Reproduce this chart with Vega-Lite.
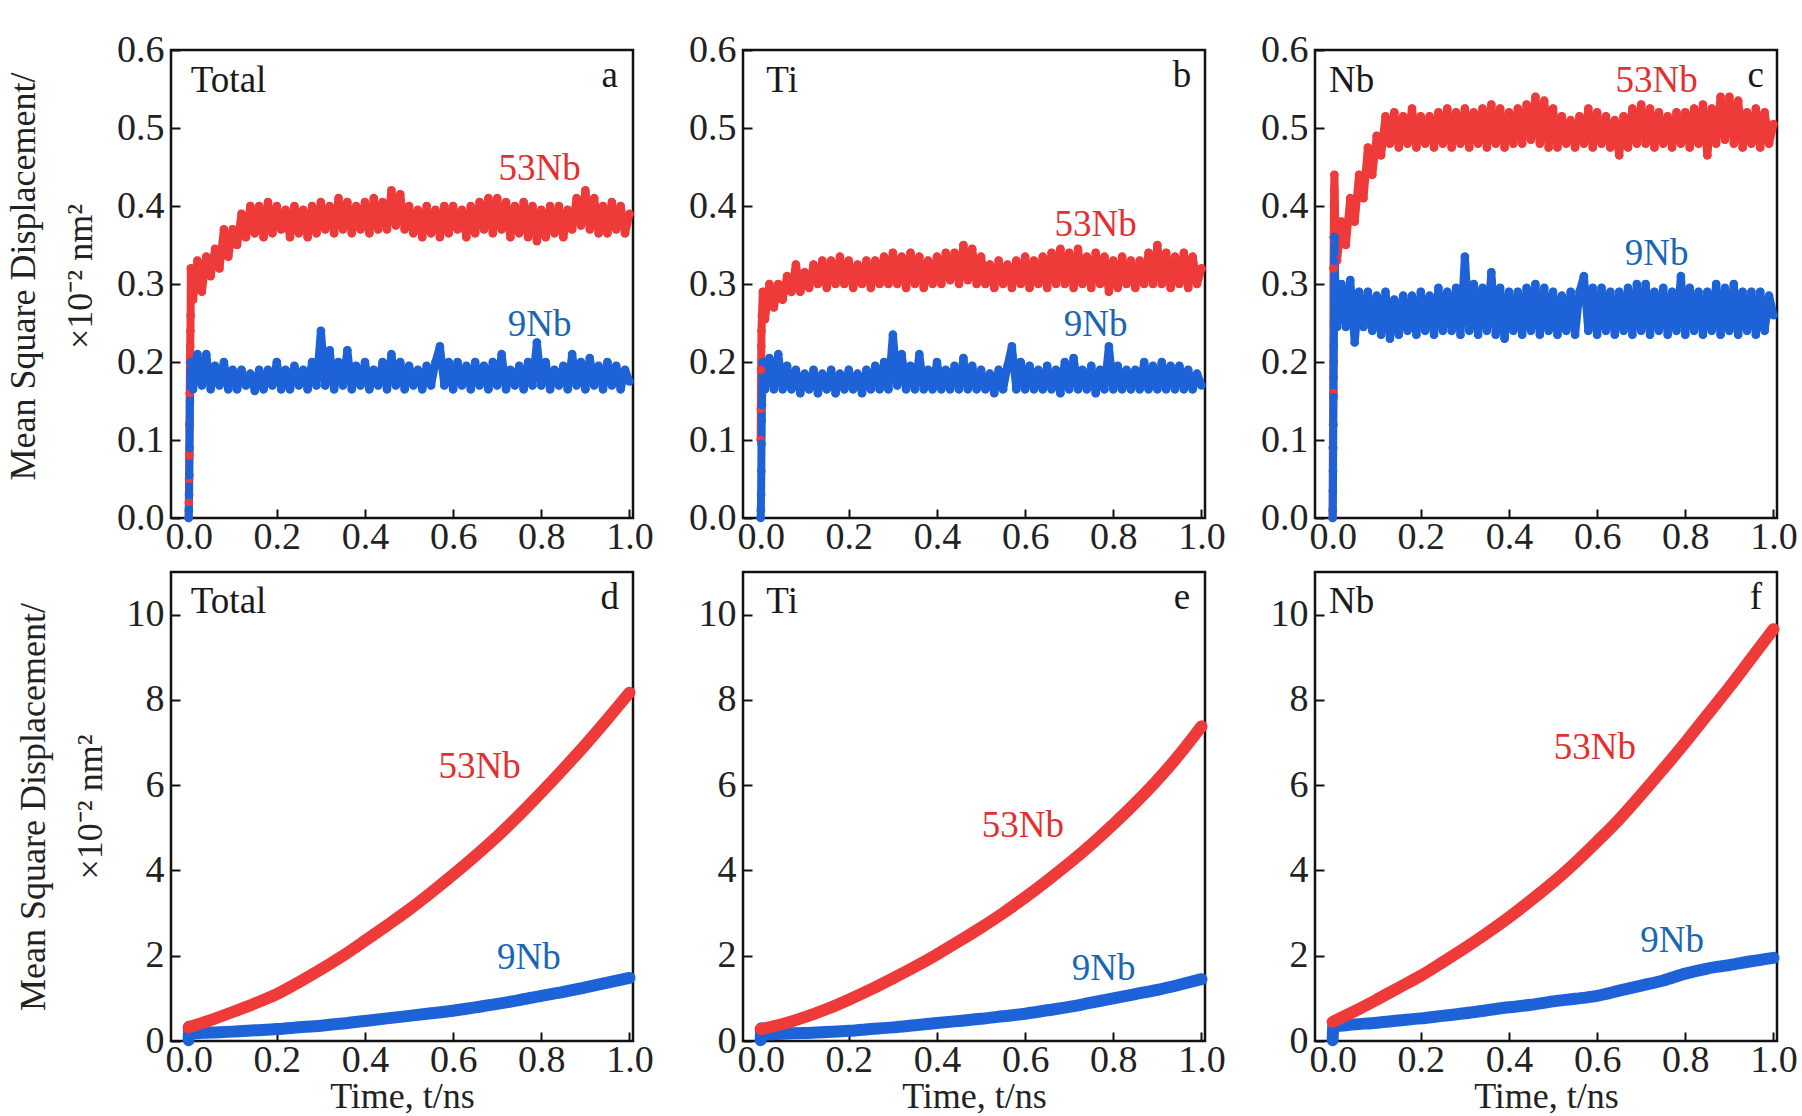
{
"$schema": "https://vega.github.io/schema/vega-lite/v6.json",
"background": "white",
"padding": {"left": 4, "top": 29, "right": 5, "bottom": 0},
"config": {
 "font": "Liberation Serif",
 "view": {"stroke": "#111", "strokeWidth": 2.5},
 "axis": {"domain": false, "grid": false, "ticks": true, "tickColor": "#111", "tickWidth": 2, "tickSize": -9, "labelFont": "Liberation Serif", "labelFontSize": 38, "labelColor": "#222", "labelFlush": false, "labelOverlap": false, "titleFont": "Liberation Serif", "titleFontSize": 36, "titleFontWeight": "normal", "titleColor": "#222"},
 "axisX": {"labelPadding": 9},
 "axisY": {"labelPadding": 16},
 "text": {"font": "Liberation Serif", "fontSize": 37}
},
"datasets": {
"msd": [
{"p":"a","s":"53Nb","t":0,"v":0},{"p":"a","s":"53Nb","t":0.0005,"v":0.02},{"p":"a","s":"53Nb","t":0.001,"v":0.05},{"p":"a","s":"53Nb","t":0.0015,"v":0.08},{"p":"a","s":"53Nb","t":0.002,"v":0.12},{"p":"a","s":"53Nb","t":0.0025,"v":0.16},{"p":"a","s":"53Nb","t":0.003,"v":0.2},{"p":"a","s":"53Nb","t":0.0035,"v":0.22},{"p":"a","s":"53Nb","t":0.004,"v":0.24},{"p":"a","s":"53Nb","t":0.0045,"v":0.26},{"p":"a","s":"53Nb","t":0.005,"v":0.32},
{"p":"a","s":"53Nb","t":0.01,"v":0.28},{"p":"a","s":"53Nb","t":0.02,"v":0.33},{"p":"a","s":"53Nb","t":0.03,"v":0.29},{"p":"a","s":"53Nb","t":0.04,"v":0.335},{"p":"a","s":"53Nb","t":0.05,"v":0.31},{"p":"a","s":"53Nb","t":0.06,"v":0.345},{"p":"a","s":"53Nb","t":0.07,"v":0.32},{"p":"a","s":"53Nb","t":0.08,"v":0.37},{"p":"a","s":"53Nb","t":0.09,"v":0.335},{"p":"a","s":"53Nb","t":0.1,"v":0.37},
{"p":"a","s":"53Nb","t":0.11,"v":0.35},{"p":"a","s":"53Nb","t":0.12,"v":0.39},{"p":"a","s":"53Nb","t":0.13,"v":0.36},{"p":"a","s":"53Nb","t":0.14,"v":0.4},{"p":"a","s":"53Nb","t":0.15,"v":0.365},{"p":"a","s":"53Nb","t":0.16,"v":0.4},{"p":"a","s":"53Nb","t":0.17,"v":0.36},{"p":"a","s":"53Nb","t":0.18,"v":0.405},{"p":"a","s":"53Nb","t":0.19,"v":0.365},{"p":"a","s":"53Nb","t":0.2,"v":0.4},
{"p":"a","s":"53Nb","t":0.21,"v":0.37},{"p":"a","s":"53Nb","t":0.22,"v":0.395},{"p":"a","s":"53Nb","t":0.23,"v":0.36},{"p":"a","s":"53Nb","t":0.24,"v":0.4},{"p":"a","s":"53Nb","t":0.25,"v":0.365},{"p":"a","s":"53Nb","t":0.26,"v":0.395},{"p":"a","s":"53Nb","t":0.27,"v":0.36},{"p":"a","s":"53Nb","t":0.28,"v":0.4},{"p":"a","s":"53Nb","t":0.29,"v":0.365},{"p":"a","s":"53Nb","t":0.3,"v":0.405},
{"p":"a","s":"53Nb","t":0.31,"v":0.37},{"p":"a","s":"53Nb","t":0.32,"v":0.4},{"p":"a","s":"53Nb","t":0.33,"v":0.365},{"p":"a","s":"53Nb","t":0.34,"v":0.41},{"p":"a","s":"53Nb","t":0.35,"v":0.37},{"p":"a","s":"53Nb","t":0.36,"v":0.405},{"p":"a","s":"53Nb","t":0.37,"v":0.365},{"p":"a","s":"53Nb","t":0.38,"v":0.4},{"p":"a","s":"53Nb","t":0.39,"v":0.37},{"p":"a","s":"53Nb","t":0.4,"v":0.405},
{"p":"a","s":"53Nb","t":0.41,"v":0.365},{"p":"a","s":"53Nb","t":0.42,"v":0.41},{"p":"a","s":"53Nb","t":0.43,"v":0.37},{"p":"a","s":"53Nb","t":0.44,"v":0.405},{"p":"a","s":"53Nb","t":0.45,"v":0.37},{"p":"a","s":"53Nb","t":0.46,"v":0.42},{"p":"a","s":"53Nb","t":0.47,"v":0.375},{"p":"a","s":"53Nb","t":0.48,"v":0.415},{"p":"a","s":"53Nb","t":0.49,"v":0.37},{"p":"a","s":"53Nb","t":0.5,"v":0.4},
{"p":"a","s":"53Nb","t":0.51,"v":0.365},{"p":"a","s":"53Nb","t":0.52,"v":0.395},{"p":"a","s":"53Nb","t":0.53,"v":0.36},{"p":"a","s":"53Nb","t":0.54,"v":0.4},{"p":"a","s":"53Nb","t":0.55,"v":0.365},{"p":"a","s":"53Nb","t":0.56,"v":0.395},{"p":"a","s":"53Nb","t":0.57,"v":0.36},{"p":"a","s":"53Nb","t":0.58,"v":0.4},{"p":"a","s":"53Nb","t":0.59,"v":0.365},{"p":"a","s":"53Nb","t":0.6,"v":0.4},
{"p":"a","s":"53Nb","t":0.61,"v":0.37},{"p":"a","s":"53Nb","t":0.62,"v":0.395},{"p":"a","s":"53Nb","t":0.63,"v":0.36},{"p":"a","s":"53Nb","t":0.64,"v":0.4},{"p":"a","s":"53Nb","t":0.65,"v":0.365},{"p":"a","s":"53Nb","t":0.66,"v":0.405},{"p":"a","s":"53Nb","t":0.67,"v":0.37},{"p":"a","s":"53Nb","t":0.68,"v":0.41},{"p":"a","s":"53Nb","t":0.69,"v":0.365},{"p":"a","s":"53Nb","t":0.7,"v":0.41},
{"p":"a","s":"53Nb","t":0.71,"v":0.37},{"p":"a","s":"53Nb","t":0.72,"v":0.405},{"p":"a","s":"53Nb","t":0.73,"v":0.36},{"p":"a","s":"53Nb","t":0.74,"v":0.4},{"p":"a","s":"53Nb","t":0.75,"v":0.365},{"p":"a","s":"53Nb","t":0.76,"v":0.405},{"p":"a","s":"53Nb","t":0.77,"v":0.36},{"p":"a","s":"53Nb","t":0.78,"v":0.4},{"p":"a","s":"53Nb","t":0.79,"v":0.355},{"p":"a","s":"53Nb","t":0.8,"v":0.395},
{"p":"a","s":"53Nb","t":0.81,"v":0.36},{"p":"a","s":"53Nb","t":0.82,"v":0.4},{"p":"a","s":"53Nb","t":0.83,"v":0.365},{"p":"a","s":"53Nb","t":0.84,"v":0.4},{"p":"a","s":"53Nb","t":0.85,"v":0.36},{"p":"a","s":"53Nb","t":0.86,"v":0.395},{"p":"a","s":"53Nb","t":0.87,"v":0.37},{"p":"a","s":"53Nb","t":0.88,"v":0.41},{"p":"a","s":"53Nb","t":0.89,"v":0.375},{"p":"a","s":"53Nb","t":0.9,"v":0.42},
{"p":"a","s":"53Nb","t":0.91,"v":0.37},{"p":"a","s":"53Nb","t":0.92,"v":0.41},{"p":"a","s":"53Nb","t":0.93,"v":0.365},{"p":"a","s":"53Nb","t":0.94,"v":0.4},{"p":"a","s":"53Nb","t":0.95,"v":0.365},{"p":"a","s":"53Nb","t":0.96,"v":0.405},{"p":"a","s":"53Nb","t":0.97,"v":0.37},{"p":"a","s":"53Nb","t":0.98,"v":0.4},{"p":"a","s":"53Nb","t":0.99,"v":0.365},{"p":"a","s":"53Nb","t":1.0,"v":0.39},

{"p":"a","s":"9Nb","t":0,"v":0},{"p":"a","s":"9Nb","t":0.0005,"v":0.01},{"p":"a","s":"9Nb","t":0.001,"v":0.03},{"p":"a","s":"9Nb","t":0.0015,"v":0.055},{"p":"a","s":"9Nb","t":0.002,"v":0.09},{"p":"a","s":"9Nb","t":0.0025,"v":0.12},{"p":"a","s":"9Nb","t":0.003,"v":0.15},{"p":"a","s":"9Nb","t":0.004,"v":0.18},{"p":"a","s":"9Nb","t":0.005,"v":0.2},
{"p":"a","s":"9Nb","t":0.01,"v":0.165},{"p":"a","s":"9Nb","t":0.02,"v":0.21},{"p":"a","s":"9Nb","t":0.03,"v":0.17},{"p":"a","s":"9Nb","t":0.04,"v":0.21},{"p":"a","s":"9Nb","t":0.05,"v":0.165},{"p":"a","s":"9Nb","t":0.06,"v":0.195},{"p":"a","s":"9Nb","t":0.07,"v":0.17},{"p":"a","s":"9Nb","t":0.08,"v":0.2},{"p":"a","s":"9Nb","t":0.09,"v":0.165},{"p":"a","s":"9Nb","t":0.1,"v":0.19},
{"p":"a","s":"9Nb","t":0.11,"v":0.165},{"p":"a","s":"9Nb","t":0.12,"v":0.19},{"p":"a","s":"9Nb","t":0.13,"v":0.17},{"p":"a","s":"9Nb","t":0.14,"v":0.185},{"p":"a","s":"9Nb","t":0.15,"v":0.163},{"p":"a","s":"9Nb","t":0.16,"v":0.19},{"p":"a","s":"9Nb","t":0.17,"v":0.165},{"p":"a","s":"9Nb","t":0.18,"v":0.19},{"p":"a","s":"9Nb","t":0.19,"v":0.17},{"p":"a","s":"9Nb","t":0.2,"v":0.2},
{"p":"a","s":"9Nb","t":0.21,"v":0.165},{"p":"a","s":"9Nb","t":0.22,"v":0.19},{"p":"a","s":"9Nb","t":0.23,"v":0.165},{"p":"a","s":"9Nb","t":0.24,"v":0.195},{"p":"a","s":"9Nb","t":0.25,"v":0.17},{"p":"a","s":"9Nb","t":0.26,"v":0.19},{"p":"a","s":"9Nb","t":0.27,"v":0.165},{"p":"a","s":"9Nb","t":0.28,"v":0.2},{"p":"a","s":"9Nb","t":0.29,"v":0.17},{"p":"a","s":"9Nb","t":0.3,"v":0.24},
{"p":"a","s":"9Nb","t":0.31,"v":0.17},{"p":"a","s":"9Nb","t":0.32,"v":0.215},{"p":"a","s":"9Nb","t":0.33,"v":0.165},{"p":"a","s":"9Nb","t":0.34,"v":0.2},{"p":"a","s":"9Nb","t":0.35,"v":0.17},{"p":"a","s":"9Nb","t":0.36,"v":0.215},{"p":"a","s":"9Nb","t":0.37,"v":0.165},{"p":"a","s":"9Nb","t":0.38,"v":0.195},{"p":"a","s":"9Nb","t":0.39,"v":0.17},{"p":"a","s":"9Nb","t":0.4,"v":0.2},
{"p":"a","s":"9Nb","t":0.41,"v":0.165},{"p":"a","s":"9Nb","t":0.42,"v":0.19},{"p":"a","s":"9Nb","t":0.43,"v":0.17},{"p":"a","s":"9Nb","t":0.44,"v":0.2},{"p":"a","s":"9Nb","t":0.45,"v":0.165},{"p":"a","s":"9Nb","t":0.46,"v":0.21},{"p":"a","s":"9Nb","t":0.47,"v":0.17},{"p":"a","s":"9Nb","t":0.48,"v":0.2},{"p":"a","s":"9Nb","t":0.49,"v":0.165},{"p":"a","s":"9Nb","t":0.5,"v":0.195},
{"p":"a","s":"9Nb","t":0.51,"v":0.17},{"p":"a","s":"9Nb","t":0.52,"v":0.19},{"p":"a","s":"9Nb","t":0.53,"v":0.165},{"p":"a","s":"9Nb","t":0.54,"v":0.195},{"p":"a","s":"9Nb","t":0.55,"v":0.17},{"p":"a","s":"9Nb","t":0.56,"v":0.2},{"p":"a","s":"9Nb","t":0.57,"v":0.22},{"p":"a","s":"9Nb","t":0.58,"v":0.17},{"p":"a","s":"9Nb","t":0.59,"v":0.2},{"p":"a","s":"9Nb","t":0.6,"v":0.165},
{"p":"a","s":"9Nb","t":0.61,"v":0.2},{"p":"a","s":"9Nb","t":0.62,"v":0.17},{"p":"a","s":"9Nb","t":0.63,"v":0.195},{"p":"a","s":"9Nb","t":0.64,"v":0.165},{"p":"a","s":"9Nb","t":0.65,"v":0.2},{"p":"a","s":"9Nb","t":0.66,"v":0.17},{"p":"a","s":"9Nb","t":0.67,"v":0.195},{"p":"a","s":"9Nb","t":0.68,"v":0.165},{"p":"a","s":"9Nb","t":0.69,"v":0.2},{"p":"a","s":"9Nb","t":0.7,"v":0.17},
{"p":"a","s":"9Nb","t":0.71,"v":0.21},{"p":"a","s":"9Nb","t":0.72,"v":0.165},{"p":"a","s":"9Nb","t":0.73,"v":0.19},{"p":"a","s":"9Nb","t":0.74,"v":0.17},{"p":"a","s":"9Nb","t":0.75,"v":0.195},{"p":"a","s":"9Nb","t":0.76,"v":0.165},{"p":"a","s":"9Nb","t":0.77,"v":0.2},{"p":"a","s":"9Nb","t":0.78,"v":0.17},{"p":"a","s":"9Nb","t":0.79,"v":0.225},{"p":"a","s":"9Nb","t":0.8,"v":0.17},
{"p":"a","s":"9Nb","t":0.81,"v":0.2},{"p":"a","s":"9Nb","t":0.82,"v":0.165},{"p":"a","s":"9Nb","t":0.83,"v":0.19},{"p":"a","s":"9Nb","t":0.84,"v":0.17},{"p":"a","s":"9Nb","t":0.85,"v":0.195},{"p":"a","s":"9Nb","t":0.86,"v":0.165},{"p":"a","s":"9Nb","t":0.87,"v":0.21},{"p":"a","s":"9Nb","t":0.88,"v":0.17},{"p":"a","s":"9Nb","t":0.89,"v":0.2},{"p":"a","s":"9Nb","t":0.9,"v":0.165},
{"p":"a","s":"9Nb","t":0.91,"v":0.205},{"p":"a","s":"9Nb","t":0.92,"v":0.17},{"p":"a","s":"9Nb","t":0.93,"v":0.195},{"p":"a","s":"9Nb","t":0.94,"v":0.165},{"p":"a","s":"9Nb","t":0.95,"v":0.2},{"p":"a","s":"9Nb","t":0.96,"v":0.17},{"p":"a","s":"9Nb","t":0.97,"v":0.195},{"p":"a","s":"9Nb","t":0.98,"v":0.165},{"p":"a","s":"9Nb","t":0.99,"v":0.19},{"p":"a","s":"9Nb","t":1.0,"v":0.175},

{"p":"b","s":"53Nb","t":0,"v":0.1},{"p":"b","s":"53Nb","t":0.0005,"v":0.14},{"p":"b","s":"53Nb","t":0.001,"v":0.19},{"p":"b","s":"53Nb","t":0.0015,"v":0.22},{"p":"b","s":"53Nb","t":0.002,"v":0.24},{"p":"b","s":"53Nb","t":0.003,"v":0.26},{"p":"b","s":"53Nb","t":0.005,"v":0.29},
{"p":"b","s":"53Nb","t":0.01,"v":0.255},{"p":"b","s":"53Nb","t":0.02,"v":0.3},{"p":"b","s":"53Nb","t":0.03,"v":0.27},{"p":"b","s":"53Nb","t":0.04,"v":0.3},{"p":"b","s":"53Nb","t":0.05,"v":0.28},{"p":"b","s":"53Nb","t":0.06,"v":0.31},{"p":"b","s":"53Nb","t":0.07,"v":0.29},{"p":"b","s":"53Nb","t":0.08,"v":0.325},{"p":"b","s":"53Nb","t":0.09,"v":0.29},{"p":"b","s":"53Nb","t":0.1,"v":0.315},
{"p":"b","s":"53Nb","t":0.11,"v":0.295},{"p":"b","s":"53Nb","t":0.12,"v":0.325},{"p":"b","s":"53Nb","t":0.13,"v":0.3},{"p":"b","s":"53Nb","t":0.14,"v":0.33},{"p":"b","s":"53Nb","t":0.15,"v":0.295},{"p":"b","s":"53Nb","t":0.16,"v":0.33},{"p":"b","s":"53Nb","t":0.17,"v":0.3},{"p":"b","s":"53Nb","t":0.18,"v":0.335},{"p":"b","s":"53Nb","t":0.19,"v":0.3},{"p":"b","s":"53Nb","t":0.2,"v":0.33},
{"p":"b","s":"53Nb","t":0.21,"v":0.295},{"p":"b","s":"53Nb","t":0.22,"v":0.325},{"p":"b","s":"53Nb","t":0.23,"v":0.3},{"p":"b","s":"53Nb","t":0.24,"v":0.33},{"p":"b","s":"53Nb","t":0.25,"v":0.295},{"p":"b","s":"53Nb","t":0.26,"v":0.33},{"p":"b","s":"53Nb","t":0.27,"v":0.3},{"p":"b","s":"53Nb","t":0.28,"v":0.335},{"p":"b","s":"53Nb","t":0.29,"v":0.3},{"p":"b","s":"53Nb","t":0.3,"v":0.34},
{"p":"b","s":"53Nb","t":0.31,"v":0.3},{"p":"b","s":"53Nb","t":0.32,"v":0.335},{"p":"b","s":"53Nb","t":0.33,"v":0.295},{"p":"b","s":"53Nb","t":0.34,"v":0.34},{"p":"b","s":"53Nb","t":0.35,"v":0.3},{"p":"b","s":"53Nb","t":0.36,"v":0.335},{"p":"b","s":"53Nb","t":0.37,"v":0.295},{"p":"b","s":"53Nb","t":0.38,"v":0.33},{"p":"b","s":"53Nb","t":0.39,"v":0.3},{"p":"b","s":"53Nb","t":0.4,"v":0.335},
{"p":"b","s":"53Nb","t":0.41,"v":0.3},{"p":"b","s":"53Nb","t":0.42,"v":0.34},{"p":"b","s":"53Nb","t":0.43,"v":0.305},{"p":"b","s":"53Nb","t":0.44,"v":0.34},{"p":"b","s":"53Nb","t":0.45,"v":0.3},{"p":"b","s":"53Nb","t":0.46,"v":0.35},{"p":"b","s":"53Nb","t":0.47,"v":0.305},{"p":"b","s":"53Nb","t":0.48,"v":0.345},{"p":"b","s":"53Nb","t":0.49,"v":0.3},{"p":"b","s":"53Nb","t":0.5,"v":0.335},
{"p":"b","s":"53Nb","t":0.51,"v":0.3},{"p":"b","s":"53Nb","t":0.52,"v":0.325},{"p":"b","s":"53Nb","t":0.53,"v":0.295},{"p":"b","s":"53Nb","t":0.54,"v":0.33},{"p":"b","s":"53Nb","t":0.55,"v":0.3},{"p":"b","s":"53Nb","t":0.56,"v":0.325},{"p":"b","s":"53Nb","t":0.57,"v":0.295},{"p":"b","s":"53Nb","t":0.58,"v":0.33},{"p":"b","s":"53Nb","t":0.59,"v":0.3},{"p":"b","s":"53Nb","t":0.6,"v":0.335},
{"p":"b","s":"53Nb","t":0.61,"v":0.295},{"p":"b","s":"53Nb","t":0.62,"v":0.33},{"p":"b","s":"53Nb","t":0.63,"v":0.3},{"p":"b","s":"53Nb","t":0.64,"v":0.335},{"p":"b","s":"53Nb","t":0.65,"v":0.295},{"p":"b","s":"53Nb","t":0.66,"v":0.34},{"p":"b","s":"53Nb","t":0.67,"v":0.3},{"p":"b","s":"53Nb","t":0.68,"v":0.345},{"p":"b","s":"53Nb","t":0.69,"v":0.3},{"p":"b","s":"53Nb","t":0.7,"v":0.34},
{"p":"b","s":"53Nb","t":0.71,"v":0.295},{"p":"b","s":"53Nb","t":0.72,"v":0.345},{"p":"b","s":"53Nb","t":0.73,"v":0.3},{"p":"b","s":"53Nb","t":0.74,"v":0.335},{"p":"b","s":"53Nb","t":0.75,"v":0.295},{"p":"b","s":"53Nb","t":0.76,"v":0.34},{"p":"b","s":"53Nb","t":0.77,"v":0.3},{"p":"b","s":"53Nb","t":0.78,"v":0.335},{"p":"b","s":"53Nb","t":0.79,"v":0.29},{"p":"b","s":"53Nb","t":0.8,"v":0.33},
{"p":"b","s":"53Nb","t":0.81,"v":0.295},{"p":"b","s":"53Nb","t":0.82,"v":0.335},{"p":"b","s":"53Nb","t":0.83,"v":0.3},{"p":"b","s":"53Nb","t":0.84,"v":0.33},{"p":"b","s":"53Nb","t":0.85,"v":0.295},{"p":"b","s":"53Nb","t":0.86,"v":0.33},{"p":"b","s":"53Nb","t":0.87,"v":0.3},{"p":"b","s":"53Nb","t":0.88,"v":0.34},{"p":"b","s":"53Nb","t":0.89,"v":0.3},{"p":"b","s":"53Nb","t":0.9,"v":0.35},
{"p":"b","s":"53Nb","t":0.91,"v":0.3},{"p":"b","s":"53Nb","t":0.92,"v":0.34},{"p":"b","s":"53Nb","t":0.93,"v":0.295},{"p":"b","s":"53Nb","t":0.94,"v":0.335},{"p":"b","s":"53Nb","t":0.95,"v":0.3},{"p":"b","s":"53Nb","t":0.96,"v":0.34},{"p":"b","s":"53Nb","t":0.97,"v":0.295},{"p":"b","s":"53Nb","t":0.98,"v":0.335},{"p":"b","s":"53Nb","t":0.99,"v":0.3},{"p":"b","s":"53Nb","t":1.0,"v":0.32},

{"p":"b","s":"9Nb","t":0,"v":0},{"p":"b","s":"9Nb","t":0.0005,"v":0.01},{"p":"b","s":"9Nb","t":0.001,"v":0.03},{"p":"b","s":"9Nb","t":0.0015,"v":0.06},{"p":"b","s":"9Nb","t":0.002,"v":0.095},{"p":"b","s":"9Nb","t":0.0025,"v":0.125},{"p":"b","s":"9Nb","t":0.003,"v":0.145},{"p":"b","s":"9Nb","t":0.004,"v":0.17},{"p":"b","s":"9Nb","t":0.005,"v":0.2},
{"p":"b","s":"9Nb","t":0.01,"v":0.165},{"p":"b","s":"9Nb","t":0.02,"v":0.205},{"p":"b","s":"9Nb","t":0.03,"v":0.165},{"p":"b","s":"9Nb","t":0.04,"v":0.21},{"p":"b","s":"9Nb","t":0.05,"v":0.165},{"p":"b","s":"9Nb","t":0.06,"v":0.195},{"p":"b","s":"9Nb","t":0.07,"v":0.165},{"p":"b","s":"9Nb","t":0.08,"v":0.19},{"p":"b","s":"9Nb","t":0.09,"v":0.16},{"p":"b","s":"9Nb","t":0.1,"v":0.185},
{"p":"b","s":"9Nb","t":0.11,"v":0.165},{"p":"b","s":"9Nb","t":0.12,"v":0.19},{"p":"b","s":"9Nb","t":0.13,"v":0.16},{"p":"b","s":"9Nb","t":0.14,"v":0.185},{"p":"b","s":"9Nb","t":0.15,"v":0.165},{"p":"b","s":"9Nb","t":0.16,"v":0.19},{"p":"b","s":"9Nb","t":0.17,"v":0.16},{"p":"b","s":"9Nb","t":0.18,"v":0.185},{"p":"b","s":"9Nb","t":0.19,"v":0.165},{"p":"b","s":"9Nb","t":0.2,"v":0.19},
{"p":"b","s":"9Nb","t":0.21,"v":0.165},{"p":"b","s":"9Nb","t":0.22,"v":0.185},{"p":"b","s":"9Nb","t":0.23,"v":0.16},{"p":"b","s":"9Nb","t":0.24,"v":0.19},{"p":"b","s":"9Nb","t":0.25,"v":0.165},{"p":"b","s":"9Nb","t":0.26,"v":0.195},{"p":"b","s":"9Nb","t":0.27,"v":0.165},{"p":"b","s":"9Nb","t":0.28,"v":0.2},{"p":"b","s":"9Nb","t":0.29,"v":0.165},{"p":"b","s":"9Nb","t":0.3,"v":0.235},
{"p":"b","s":"9Nb","t":0.31,"v":0.17},{"p":"b","s":"9Nb","t":0.32,"v":0.21},{"p":"b","s":"9Nb","t":0.33,"v":0.165},{"p":"b","s":"9Nb","t":0.34,"v":0.195},{"p":"b","s":"9Nb","t":0.35,"v":0.165},{"p":"b","s":"9Nb","t":0.36,"v":0.21},{"p":"b","s":"9Nb","t":0.37,"v":0.165},{"p":"b","s":"9Nb","t":0.38,"v":0.19},{"p":"b","s":"9Nb","t":0.39,"v":0.165},{"p":"b","s":"9Nb","t":0.4,"v":0.2},
{"p":"b","s":"9Nb","t":0.41,"v":0.165},{"p":"b","s":"9Nb","t":0.42,"v":0.19},{"p":"b","s":"9Nb","t":0.43,"v":0.165},{"p":"b","s":"9Nb","t":0.44,"v":0.195},{"p":"b","s":"9Nb","t":0.45,"v":0.165},{"p":"b","s":"9Nb","t":0.46,"v":0.205},{"p":"b","s":"9Nb","t":0.47,"v":0.165},{"p":"b","s":"9Nb","t":0.48,"v":0.195},{"p":"b","s":"9Nb","t":0.49,"v":0.165},{"p":"b","s":"9Nb","t":0.5,"v":0.19},
{"p":"b","s":"9Nb","t":0.51,"v":0.165},{"p":"b","s":"9Nb","t":0.52,"v":0.185},{"p":"b","s":"9Nb","t":0.53,"v":0.16},{"p":"b","s":"9Nb","t":0.54,"v":0.19},{"p":"b","s":"9Nb","t":0.55,"v":0.165},{"p":"b","s":"9Nb","t":0.56,"v":0.195},{"p":"b","s":"9Nb","t":0.57,"v":0.22},{"p":"b","s":"9Nb","t":0.58,"v":0.165},{"p":"b","s":"9Nb","t":0.59,"v":0.2},{"p":"b","s":"9Nb","t":0.6,"v":0.165},
{"p":"b","s":"9Nb","t":0.61,"v":0.195},{"p":"b","s":"9Nb","t":0.62,"v":0.165},{"p":"b","s":"9Nb","t":0.63,"v":0.19},{"p":"b","s":"9Nb","t":0.64,"v":0.165},{"p":"b","s":"9Nb","t":0.65,"v":0.195},{"p":"b","s":"9Nb","t":0.66,"v":0.165},{"p":"b","s":"9Nb","t":0.67,"v":0.19},{"p":"b","s":"9Nb","t":0.68,"v":0.16},{"p":"b","s":"9Nb","t":0.69,"v":0.2},{"p":"b","s":"9Nb","t":0.7,"v":0.165},
{"p":"b","s":"9Nb","t":0.71,"v":0.205},{"p":"b","s":"9Nb","t":0.72,"v":0.165},{"p":"b","s":"9Nb","t":0.73,"v":0.19},{"p":"b","s":"9Nb","t":0.74,"v":0.165},{"p":"b","s":"9Nb","t":0.75,"v":0.195},{"p":"b","s":"9Nb","t":0.76,"v":0.16},{"p":"b","s":"9Nb","t":0.77,"v":0.19},{"p":"b","s":"9Nb","t":0.78,"v":0.165},{"p":"b","s":"9Nb","t":0.79,"v":0.22},{"p":"b","s":"9Nb","t":0.8,"v":0.165},
{"p":"b","s":"9Nb","t":0.81,"v":0.195},{"p":"b","s":"9Nb","t":0.82,"v":0.165},{"p":"b","s":"9Nb","t":0.83,"v":0.19},{"p":"b","s":"9Nb","t":0.84,"v":0.165},{"p":"b","s":"9Nb","t":0.85,"v":0.19},{"p":"b","s":"9Nb","t":0.86,"v":0.165},{"p":"b","s":"9Nb","t":0.87,"v":0.2},{"p":"b","s":"9Nb","t":0.88,"v":0.165},{"p":"b","s":"9Nb","t":0.89,"v":0.195},{"p":"b","s":"9Nb","t":0.9,"v":0.165},
{"p":"b","s":"9Nb","t":0.91,"v":0.2},{"p":"b","s":"9Nb","t":0.92,"v":0.165},{"p":"b","s":"9Nb","t":0.93,"v":0.195},{"p":"b","s":"9Nb","t":0.94,"v":0.165},{"p":"b","s":"9Nb","t":0.95,"v":0.195},{"p":"b","s":"9Nb","t":0.96,"v":0.165},{"p":"b","s":"9Nb","t":0.97,"v":0.19},{"p":"b","s":"9Nb","t":0.98,"v":0.165},{"p":"b","s":"9Nb","t":0.99,"v":0.185},{"p":"b","s":"9Nb","t":1.0,"v":0.17},

{"p":"c","s":"53Nb","t":0,"v":0},{"p":"c","s":"53Nb","t":0.0005,"v":0.09},{"p":"c","s":"53Nb","t":0.001,"v":0.12},{"p":"c","s":"53Nb","t":0.0015,"v":0.16},{"p":"c","s":"53Nb","t":0.002,"v":0.32},{"p":"c","s":"53Nb","t":0.0025,"v":0.36},{"p":"c","s":"53Nb","t":0.003,"v":0.4},{"p":"c","s":"53Nb","t":0.0035,"v":0.42},{"p":"c","s":"53Nb","t":0.004,"v":0.44},{"p":"c","s":"53Nb","t":0.006,"v":0.38},
{"p":"c","s":"53Nb","t":0.01,"v":0.33},{"p":"c","s":"53Nb","t":0.02,"v":0.38},{"p":"c","s":"53Nb","t":0.03,"v":0.35},{"p":"c","s":"53Nb","t":0.04,"v":0.41},{"p":"c","s":"53Nb","t":0.05,"v":0.38},{"p":"c","s":"53Nb","t":0.06,"v":0.44},{"p":"c","s":"53Nb","t":0.07,"v":0.41},{"p":"c","s":"53Nb","t":0.08,"v":0.475},{"p":"c","s":"53Nb","t":0.09,"v":0.44},{"p":"c","s":"53Nb","t":0.1,"v":0.49},
{"p":"c","s":"53Nb","t":0.11,"v":0.465},{"p":"c","s":"53Nb","t":0.12,"v":0.515},{"p":"c","s":"53Nb","t":0.13,"v":0.48},{"p":"c","s":"53Nb","t":0.14,"v":0.52},{"p":"c","s":"53Nb","t":0.15,"v":0.475},{"p":"c","s":"53Nb","t":0.16,"v":0.515},{"p":"c","s":"53Nb","t":0.17,"v":0.48},{"p":"c","s":"53Nb","t":0.18,"v":0.525},{"p":"c","s":"53Nb","t":0.19,"v":0.475},{"p":"c","s":"53Nb","t":0.2,"v":0.515},
{"p":"c","s":"53Nb","t":0.21,"v":0.48},{"p":"c","s":"53Nb","t":0.22,"v":0.515},{"p":"c","s":"53Nb","t":0.23,"v":0.475},{"p":"c","s":"53Nb","t":0.24,"v":0.52},{"p":"c","s":"53Nb","t":0.25,"v":0.48},{"p":"c","s":"53Nb","t":0.26,"v":0.525},{"p":"c","s":"53Nb","t":0.27,"v":0.475},{"p":"c","s":"53Nb","t":0.28,"v":0.52},{"p":"c","s":"53Nb","t":0.29,"v":0.48},{"p":"c","s":"53Nb","t":0.3,"v":0.525},
{"p":"c","s":"53Nb","t":0.31,"v":0.475},{"p":"c","s":"53Nb","t":0.32,"v":0.52},{"p":"c","s":"53Nb","t":0.33,"v":0.48},{"p":"c","s":"53Nb","t":0.34,"v":0.525},{"p":"c","s":"53Nb","t":0.35,"v":0.475},{"p":"c","s":"53Nb","t":0.36,"v":0.53},{"p":"c","s":"53Nb","t":0.37,"v":0.48},{"p":"c","s":"53Nb","t":0.38,"v":0.525},{"p":"c","s":"53Nb","t":0.39,"v":0.475},{"p":"c","s":"53Nb","t":0.4,"v":0.52},
{"p":"c","s":"53Nb","t":0.41,"v":0.48},{"p":"c","s":"53Nb","t":0.42,"v":0.525},{"p":"c","s":"53Nb","t":0.43,"v":0.48},{"p":"c","s":"53Nb","t":0.44,"v":0.53},{"p":"c","s":"53Nb","t":0.45,"v":0.485},{"p":"c","s":"53Nb","t":0.46,"v":0.54},{"p":"c","s":"53Nb","t":0.47,"v":0.48},{"p":"c","s":"53Nb","t":0.48,"v":0.535},{"p":"c","s":"53Nb","t":0.49,"v":0.475},{"p":"c","s":"53Nb","t":0.5,"v":0.525},
{"p":"c","s":"53Nb","t":0.51,"v":0.475},{"p":"c","s":"53Nb","t":0.52,"v":0.515},{"p":"c","s":"53Nb","t":0.53,"v":0.48},{"p":"c","s":"53Nb","t":0.54,"v":0.51},{"p":"c","s":"53Nb","t":0.55,"v":0.475},{"p":"c","s":"53Nb","t":0.56,"v":0.515},{"p":"c","s":"53Nb","t":0.57,"v":0.48},{"p":"c","s":"53Nb","t":0.58,"v":0.525},{"p":"c","s":"53Nb","t":0.59,"v":0.475},{"p":"c","s":"53Nb","t":0.6,"v":0.52},
{"p":"c","s":"53Nb","t":0.61,"v":0.48},{"p":"c","s":"53Nb","t":0.62,"v":0.515},{"p":"c","s":"53Nb","t":0.63,"v":0.475},{"p":"c","s":"53Nb","t":0.64,"v":0.51},{"p":"c","s":"53Nb","t":0.65,"v":0.465},{"p":"c","s":"53Nb","t":0.66,"v":0.515},{"p":"c","s":"53Nb","t":0.67,"v":0.475},{"p":"c","s":"53Nb","t":0.68,"v":0.525},{"p":"c","s":"53Nb","t":0.69,"v":0.48},{"p":"c","s":"53Nb","t":0.7,"v":0.53},
{"p":"c","s":"53Nb","t":0.71,"v":0.48},{"p":"c","s":"53Nb","t":0.72,"v":0.525},{"p":"c","s":"53Nb","t":0.73,"v":0.475},{"p":"c","s":"53Nb","t":0.74,"v":0.52},{"p":"c","s":"53Nb","t":0.75,"v":0.48},{"p":"c","s":"53Nb","t":0.76,"v":0.515},{"p":"c","s":"53Nb","t":0.77,"v":0.475},{"p":"c","s":"53Nb","t":0.78,"v":0.52},{"p":"c","s":"53Nb","t":0.79,"v":0.48},{"p":"c","s":"53Nb","t":0.8,"v":0.52},
{"p":"c","s":"53Nb","t":0.81,"v":0.475},{"p":"c","s":"53Nb","t":0.82,"v":0.525},{"p":"c","s":"53Nb","t":0.83,"v":0.48},{"p":"c","s":"53Nb","t":0.84,"v":0.53},{"p":"c","s":"53Nb","t":0.85,"v":0.465},{"p":"c","s":"53Nb","t":0.86,"v":0.525},{"p":"c","s":"53Nb","t":0.87,"v":0.48},{"p":"c","s":"53Nb","t":0.88,"v":0.54},{"p":"c","s":"53Nb","t":0.89,"v":0.485},{"p":"c","s":"53Nb","t":0.9,"v":0.54},
{"p":"c","s":"53Nb","t":0.91,"v":0.48},{"p":"c","s":"53Nb","t":0.92,"v":0.535},{"p":"c","s":"53Nb","t":0.93,"v":0.475},{"p":"c","s":"53Nb","t":0.94,"v":0.52},{"p":"c","s":"53Nb","t":0.95,"v":0.48},{"p":"c","s":"53Nb","t":0.96,"v":0.525},{"p":"c","s":"53Nb","t":0.97,"v":0.475},{"p":"c","s":"53Nb","t":0.98,"v":0.52},{"p":"c","s":"53Nb","t":0.99,"v":0.48},{"p":"c","s":"53Nb","t":1.0,"v":0.505},

{"p":"c","s":"9Nb","t":0,"v":0},{"p":"c","s":"9Nb","t":0.0003,"v":0.01},{"p":"c","s":"9Nb","t":0.0006,"v":0.035},{"p":"c","s":"9Nb","t":0.0009,"v":0.06},{"p":"c","s":"9Nb","t":0.0012,"v":0.09},{"p":"c","s":"9Nb","t":0.0015,"v":0.12},{"p":"c","s":"9Nb","t":0.0018,"v":0.155},{"p":"c","s":"9Nb","t":0.0021,"v":0.18},{"p":"c","s":"9Nb","t":0.0024,"v":0.2},{"p":"c","s":"9Nb","t":0.0027,"v":0.22},{"p":"c","s":"9Nb","t":0.003,"v":0.25},{"p":"c","s":"9Nb","t":0.0033,"v":0.28},{"p":"c","s":"9Nb","t":0.0036,"v":0.3},{"p":"c","s":"9Nb","t":0.0039,"v":0.33},{"p":"c","s":"9Nb","t":0.0042,"v":0.36},{"p":"c","s":"9Nb","t":0.006,"v":0.3},
{"p":"c","s":"9Nb","t":0.01,"v":0.245},{"p":"c","s":"9Nb","t":0.02,"v":0.3},{"p":"c","s":"9Nb","t":0.03,"v":0.245},{"p":"c","s":"9Nb","t":0.04,"v":0.305},{"p":"c","s":"9Nb","t":0.05,"v":0.225},{"p":"c","s":"9Nb","t":0.06,"v":0.29},{"p":"c","s":"9Nb","t":0.07,"v":0.245},{"p":"c","s":"9Nb","t":0.08,"v":0.29},{"p":"c","s":"9Nb","t":0.09,"v":0.24},{"p":"c","s":"9Nb","t":0.1,"v":0.285},
{"p":"c","s":"9Nb","t":0.11,"v":0.235},{"p":"c","s":"9Nb","t":0.12,"v":0.29},{"p":"c","s":"9Nb","t":0.13,"v":0.23},{"p":"c","s":"9Nb","t":0.14,"v":0.28},{"p":"c","s":"9Nb","t":0.15,"v":0.235},{"p":"c","s":"9Nb","t":0.16,"v":0.285},{"p":"c","s":"9Nb","t":0.17,"v":0.24},{"p":"c","s":"9Nb","t":0.18,"v":0.285},{"p":"c","s":"9Nb","t":0.19,"v":0.235},{"p":"c","s":"9Nb","t":0.2,"v":0.29},
{"p":"c","s":"9Nb","t":0.21,"v":0.24},{"p":"c","s":"9Nb","t":0.22,"v":0.285},{"p":"c","s":"9Nb","t":0.23,"v":0.235},{"p":"c","s":"9Nb","t":0.24,"v":0.295},{"p":"c","s":"9Nb","t":0.25,"v":0.24},{"p":"c","s":"9Nb","t":0.26,"v":0.29},{"p":"c","s":"9Nb","t":0.27,"v":0.24},{"p":"c","s":"9Nb","t":0.28,"v":0.295},{"p":"c","s":"9Nb","t":0.29,"v":0.235},{"p":"c","s":"9Nb","t":0.3,"v":0.335},
{"p":"c","s":"9Nb","t":0.31,"v":0.24},{"p":"c","s":"9Nb","t":0.32,"v":0.3},{"p":"c","s":"9Nb","t":0.33,"v":0.235},{"p":"c","s":"9Nb","t":0.34,"v":0.295},{"p":"c","s":"9Nb","t":0.35,"v":0.24},{"p":"c","s":"9Nb","t":0.36,"v":0.315},{"p":"c","s":"9Nb","t":0.37,"v":0.235},{"p":"c","s":"9Nb","t":0.38,"v":0.295},{"p":"c","s":"9Nb","t":0.39,"v":0.23},{"p":"c","s":"9Nb","t":0.4,"v":0.29},
{"p":"c","s":"9Nb","t":0.41,"v":0.24},{"p":"c","s":"9Nb","t":0.42,"v":0.29},{"p":"c","s":"9Nb","t":0.43,"v":0.235},{"p":"c","s":"9Nb","t":0.44,"v":0.295},{"p":"c","s":"9Nb","t":0.45,"v":0.24},{"p":"c","s":"9Nb","t":0.46,"v":0.3},{"p":"c","s":"9Nb","t":0.47,"v":0.235},{"p":"c","s":"9Nb","t":0.48,"v":0.295},{"p":"c","s":"9Nb","t":0.49,"v":0.24},{"p":"c","s":"9Nb","t":0.5,"v":0.29},
{"p":"c","s":"9Nb","t":0.51,"v":0.235},{"p":"c","s":"9Nb","t":0.52,"v":0.285},{"p":"c","s":"9Nb","t":0.53,"v":0.24},{"p":"c","s":"9Nb","t":0.54,"v":0.29},{"p":"c","s":"9Nb","t":0.55,"v":0.235},{"p":"c","s":"9Nb","t":0.56,"v":0.29},{"p":"c","s":"9Nb","t":0.57,"v":0.31},{"p":"c","s":"9Nb","t":0.58,"v":0.24},{"p":"c","s":"9Nb","t":0.59,"v":0.295},{"p":"c","s":"9Nb","t":0.6,"v":0.235},
{"p":"c","s":"9Nb","t":0.61,"v":0.295},{"p":"c","s":"9Nb","t":0.62,"v":0.24},{"p":"c","s":"9Nb","t":0.63,"v":0.29},{"p":"c","s":"9Nb","t":0.64,"v":0.235},{"p":"c","s":"9Nb","t":0.65,"v":0.29},{"p":"c","s":"9Nb","t":0.66,"v":0.24},{"p":"c","s":"9Nb","t":0.67,"v":0.295},{"p":"c","s":"9Nb","t":0.68,"v":0.235},{"p":"c","s":"9Nb","t":0.69,"v":0.3},{"p":"c","s":"9Nb","t":0.7,"v":0.24},
{"p":"c","s":"9Nb","t":0.71,"v":0.3},{"p":"c","s":"9Nb","t":0.72,"v":0.235},{"p":"c","s":"9Nb","t":0.73,"v":0.29},{"p":"c","s":"9Nb","t":0.74,"v":0.24},{"p":"c","s":"9Nb","t":0.75,"v":0.295},{"p":"c","s":"9Nb","t":0.76,"v":0.235},{"p":"c","s":"9Nb","t":0.77,"v":0.29},{"p":"c","s":"9Nb","t":0.78,"v":0.24},{"p":"c","s":"9Nb","t":0.79,"v":0.31},{"p":"c","s":"9Nb","t":0.8,"v":0.235},
{"p":"c","s":"9Nb","t":0.81,"v":0.295},{"p":"c","s":"9Nb","t":0.82,"v":0.24},{"p":"c","s":"9Nb","t":0.83,"v":0.29},{"p":"c","s":"9Nb","t":0.84,"v":0.235},{"p":"c","s":"9Nb","t":0.85,"v":0.29},{"p":"c","s":"9Nb","t":0.86,"v":0.24},{"p":"c","s":"9Nb","t":0.87,"v":0.3},{"p":"c","s":"9Nb","t":0.88,"v":0.235},{"p":"c","s":"9Nb","t":0.89,"v":0.295},{"p":"c","s":"9Nb","t":0.9,"v":0.24},
{"p":"c","s":"9Nb","t":0.91,"v":0.3},{"p":"c","s":"9Nb","t":0.92,"v":0.235},{"p":"c","s":"9Nb","t":0.93,"v":0.29},{"p":"c","s":"9Nb","t":0.94,"v":0.24},{"p":"c","s":"9Nb","t":0.95,"v":0.29},{"p":"c","s":"9Nb","t":0.96,"v":0.235},{"p":"c","s":"9Nb","t":0.97,"v":0.29},{"p":"c","s":"9Nb","t":0.98,"v":0.24},{"p":"c","s":"9Nb","t":0.99,"v":0.285},{"p":"c","s":"9Nb","t":1.0,"v":0.26}
],
"curve": [
{"p":"d","s":"9Nb","t":0,"v":0.02},{"p":"d","s":"9Nb","t":0.002,"v":0.34},{"p":"d","s":"9Nb","t":0.005,"v":0.18},{"p":"d","s":"9Nb","t":0.05,"v":0.2},{"p":"d","s":"9Nb","t":0.1,"v":0.22},{"p":"d","s":"9Nb","t":0.15,"v":0.25},{"p":"d","s":"9Nb","t":0.2,"v":0.28},{"p":"d","s":"9Nb","t":0.25,"v":0.32},{"p":"d","s":"9Nb","t":0.3,"v":0.36},{"p":"d","s":"9Nb","t":0.35,"v":0.41},{"p":"d","s":"9Nb","t":0.4,"v":0.47},{"p":"d","s":"9Nb","t":0.45,"v":0.53},{"p":"d","s":"9Nb","t":0.5,"v":0.59},{"p":"d","s":"9Nb","t":0.55,"v":0.65},{"p":"d","s":"9Nb","t":0.6,"v":0.71},{"p":"d","s":"9Nb","t":0.65,"v":0.79},{"p":"d","s":"9Nb","t":0.7,"v":0.87},{"p":"d","s":"9Nb","t":0.75,"v":0.96},{"p":"d","s":"9Nb","t":0.8,"v":1.06},{"p":"d","s":"9Nb","t":0.85,"v":1.15},{"p":"d","s":"9Nb","t":0.9,"v":1.26},{"p":"d","s":"9Nb","t":0.95,"v":1.37},{"p":"d","s":"9Nb","t":1.0,"v":1.48},
{"p":"d","s":"53Nb","t":0,"v":0.32},{"p":"d","s":"53Nb","t":0.05,"v":0.49},{"p":"d","s":"53Nb","t":0.1,"v":0.68},{"p":"d","s":"53Nb","t":0.15,"v":0.88},{"p":"d","s":"53Nb","t":0.2,"v":1.1},{"p":"d","s":"53Nb","t":0.25,"v":1.38},{"p":"d","s":"53Nb","t":0.3,"v":1.68},{"p":"d","s":"53Nb","t":0.35,"v":2.0},{"p":"d","s":"53Nb","t":0.4,"v":2.35},{"p":"d","s":"53Nb","t":0.45,"v":2.71},{"p":"d","s":"53Nb","t":0.5,"v":3.08},{"p":"d","s":"53Nb","t":0.55,"v":3.48},{"p":"d","s":"53Nb","t":0.6,"v":3.9},{"p":"d","s":"53Nb","t":0.65,"v":4.34},{"p":"d","s":"53Nb","t":0.7,"v":4.8},{"p":"d","s":"53Nb","t":0.75,"v":5.3},{"p":"d","s":"53Nb","t":0.8,"v":5.83},{"p":"d","s":"53Nb","t":0.85,"v":6.38},{"p":"d","s":"53Nb","t":0.9,"v":6.95},{"p":"d","s":"53Nb","t":0.95,"v":7.55},{"p":"d","s":"53Nb","t":1.0,"v":8.17},
{"p":"e","s":"9Nb","t":0,"v":0.02},{"p":"e","s":"9Nb","t":0.002,"v":0.3},{"p":"e","s":"9Nb","t":0.005,"v":0.15},{"p":"e","s":"9Nb","t":0.05,"v":0.17},{"p":"e","s":"9Nb","t":0.1,"v":0.19},{"p":"e","s":"9Nb","t":0.15,"v":0.21},{"p":"e","s":"9Nb","t":0.2,"v":0.24},{"p":"e","s":"9Nb","t":0.25,"v":0.28},{"p":"e","s":"9Nb","t":0.3,"v":0.32},{"p":"e","s":"9Nb","t":0.35,"v":0.37},{"p":"e","s":"9Nb","t":0.4,"v":0.42},{"p":"e","s":"9Nb","t":0.45,"v":0.47},{"p":"e","s":"9Nb","t":0.5,"v":0.52},{"p":"e","s":"9Nb","t":0.55,"v":0.58},{"p":"e","s":"9Nb","t":0.6,"v":0.64},{"p":"e","s":"9Nb","t":0.65,"v":0.72},{"p":"e","s":"9Nb","t":0.7,"v":0.8},{"p":"e","s":"9Nb","t":0.75,"v":0.9},{"p":"e","s":"9Nb","t":0.8,"v":1.0},{"p":"e","s":"9Nb","t":0.85,"v":1.1},{"p":"e","s":"9Nb","t":0.9,"v":1.2},{"p":"e","s":"9Nb","t":0.95,"v":1.32},{"p":"e","s":"9Nb","t":1.0,"v":1.45},
{"p":"e","s":"53Nb","t":0,"v":0.28},{"p":"e","s":"53Nb","t":0.05,"v":0.4},{"p":"e","s":"53Nb","t":0.1,"v":0.56},{"p":"e","s":"53Nb","t":0.15,"v":0.75},{"p":"e","s":"53Nb","t":0.2,"v":0.97},{"p":"e","s":"53Nb","t":0.25,"v":1.21},{"p":"e","s":"53Nb","t":0.3,"v":1.47},{"p":"e","s":"53Nb","t":0.35,"v":1.74},{"p":"e","s":"53Nb","t":0.4,"v":2.03},{"p":"e","s":"53Nb","t":0.45,"v":2.34},{"p":"e","s":"53Nb","t":0.5,"v":2.66},{"p":"e","s":"53Nb","t":0.55,"v":3.0},{"p":"e","s":"53Nb","t":0.6,"v":3.37},{"p":"e","s":"53Nb","t":0.65,"v":3.76},{"p":"e","s":"53Nb","t":0.7,"v":4.17},{"p":"e","s":"53Nb","t":0.75,"v":4.61},{"p":"e","s":"53Nb","t":0.8,"v":5.08},{"p":"e","s":"53Nb","t":0.85,"v":5.58},{"p":"e","s":"53Nb","t":0.9,"v":6.12},{"p":"e","s":"53Nb","t":0.95,"v":6.72},{"p":"e","s":"53Nb","t":1.0,"v":7.38},
{"p":"f","s":"9Nb","t":0,"v":0.02},{"p":"f","s":"9Nb","t":0.002,"v":0.4},{"p":"f","s":"9Nb","t":0.005,"v":0.35},{"p":"f","s":"9Nb","t":0.05,"v":0.39},{"p":"f","s":"9Nb","t":0.1,"v":0.43},{"p":"f","s":"9Nb","t":0.15,"v":0.48},{"p":"f","s":"9Nb","t":0.2,"v":0.53},{"p":"f","s":"9Nb","t":0.25,"v":0.59},{"p":"f","s":"9Nb","t":0.3,"v":0.65},{"p":"f","s":"9Nb","t":0.35,"v":0.72},{"p":"f","s":"9Nb","t":0.4,"v":0.79},{"p":"f","s":"9Nb","t":0.45,"v":0.85},{"p":"f","s":"9Nb","t":0.5,"v":0.93},{"p":"f","s":"9Nb","t":0.55,"v":0.99},{"p":"f","s":"9Nb","t":0.6,"v":1.06},{"p":"f","s":"9Nb","t":0.65,"v":1.18},{"p":"f","s":"9Nb","t":0.7,"v":1.3},{"p":"f","s":"9Nb","t":0.75,"v":1.42},{"p":"f","s":"9Nb","t":0.8,"v":1.58},{"p":"f","s":"9Nb","t":0.85,"v":1.7},{"p":"f","s":"9Nb","t":0.9,"v":1.78},{"p":"f","s":"9Nb","t":0.95,"v":1.87},{"p":"f","s":"9Nb","t":1.0,"v":1.95},
{"p":"f","s":"53Nb","t":0,"v":0.45},{"p":"f","s":"53Nb","t":0.05,"v":0.7},{"p":"f","s":"53Nb","t":0.1,"v":0.97},{"p":"f","s":"53Nb","t":0.15,"v":1.25},{"p":"f","s":"53Nb","t":0.2,"v":1.53},{"p":"f","s":"53Nb","t":0.25,"v":1.85},{"p":"f","s":"53Nb","t":0.3,"v":2.18},{"p":"f","s":"53Nb","t":0.35,"v":2.53},{"p":"f","s":"53Nb","t":0.4,"v":2.9},{"p":"f","s":"53Nb","t":0.45,"v":3.3},{"p":"f","s":"53Nb","t":0.5,"v":3.72},{"p":"f","s":"53Nb","t":0.55,"v":4.18},{"p":"f","s":"53Nb","t":0.6,"v":4.68},{"p":"f","s":"53Nb","t":0.65,"v":5.2},{"p":"f","s":"53Nb","t":0.7,"v":5.78},{"p":"f","s":"53Nb","t":0.75,"v":6.38},{"p":"f","s":"53Nb","t":0.8,"v":7.0},{"p":"f","s":"53Nb","t":0.85,"v":7.65},{"p":"f","s":"53Nb","t":0.9,"v":8.3},{"p":"f","s":"53Nb","t":0.95,"v":8.98},{"p":"f","s":"53Nb","t":1.0,"v":9.66}
],
"lab": [
{"p":"a","k":"name","s":"","t":0.005,"v":0.56,"txt":"Total"},{"p":"a","k":"letter","s":"","t":0.955,"v":0.567,"txt":"a"},{"p":"a","k":"series","s":"53Nb","t":0.796,"v":0.447,"txt":"53Nb"},{"p":"a","k":"series","s":"9Nb","t":0.796,"v":0.248,"txt":"9Nb"},
{"p":"b","k":"name","s":"","t":0.013,"v":0.56,"txt":"Ti"},{"p":"b","k":"letter","s":"","t":0.956,"v":0.567,"txt":"b"},{"p":"b","k":"series","s":"53Nb","t":0.76,"v":0.376,"txt":"53Nb"},{"p":"b","k":"series","s":"9Nb","t":0.76,"v":0.248,"txt":"9Nb"},
{"p":"c","k":"name","s":"","t":-0.008,"v":0.56,"txt":"Nb"},{"p":"c","k":"letter","s":"","t":0.96,"v":0.567,"txt":"c"},{"p":"c","k":"series","s":"53Nb","t":0.735,"v":0.56,"txt":"53Nb"},{"p":"c","k":"series","s":"9Nb","t":0.735,"v":0.339,"txt":"9Nb"},
{"p":"d","k":"name","s":"","t":0.005,"v":10.3,"txt":"Total"},{"p":"d","k":"letter","s":"","t":0.955,"v":10.38,"txt":"d"},{"p":"d","k":"series","s":"53Nb","t":0.66,"v":6.42,"txt":"53Nb"},{"p":"d","k":"series","s":"9Nb","t":0.772,"v":1.94,"txt":"9Nb"},
{"p":"e","k":"name","s":"","t":0.013,"v":10.3,"txt":"Ti"},{"p":"e","k":"letter","s":"","t":0.956,"v":10.38,"txt":"e"},{"p":"e","k":"series","s":"53Nb","t":0.595,"v":5.04,"txt":"53Nb"},{"p":"e","k":"series","s":"9Nb","t":0.778,"v":1.7,"txt":"9Nb"},
{"p":"f","k":"name","s":"","t":-0.008,"v":10.3,"txt":"Nb"},{"p":"f","k":"letter","s":"","t":0.96,"v":10.38,"txt":"f"},{"p":"f","k":"series","s":"53Nb","t":0.595,"v":6.87,"txt":"53Nb"},{"p":"f","k":"series","s":"9Nb","t":0.77,"v":2.34,"txt":"9Nb"}
]
},
"columns": 3,
"spacing": {"row": 54, "column": 110},
"bounds": "flush",
"concat": [
{"width": 462, "height": 468, "resolve": {"scale": {"color": "independent"}}, "layer": [
 {"data": {"name": "msd"}, "transform": [{"filter": "datum.p === 'a'"}], "mark": {"type": "line", "strokeWidth": 8, "strokeJoin": "round", "point": {"filled": true, "size": 75}},
  "encoding": {"x": {"field": "t", "type": "quantitative", "scale": {"domain": [-0.04, 1.008], "nice": false, "zero": false}, "axis": {"values": [0, 0.2, 0.4, 0.6, 0.8, 1], "format": ".1f", "title": null}},
   "y": {"field": "v", "type": "quantitative", "scale": {"domain": [0, 0.6], "nice": false}, "axis": {"values": [0, 0.1, 0.2, 0.3, 0.4, 0.5, 0.6], "format": ".1f", "title": ["Mean Square Displacement/", "×10⁻² nm²"], "titleLineHeight": 57, "titlePadding": 17, "titleY": 226}},
   "color": {"field": "s", "type": "nominal", "scale": {"domain": ["53Nb", "9Nb"], "range": ["#ef3a3a", "#1e62d8"]}, "legend": null}}},
 {"data": {"name": "lab"}, "transform": [{"filter": "datum.p === 'a' && datum.k === 'name'"}], "mark": {"type": "text", "align": "left", "baseline": "middle", "color": "#1a1a1a"}, "encoding": {"x": {"field": "t", "type": "quantitative"}, "y": {"field": "v", "type": "quantitative"}, "text": {"field": "txt"}}},
 {"data": {"name": "lab"}, "transform": [{"filter": "datum.p === 'a' && datum.k === 'letter'"}], "mark": {"type": "text", "align": "center", "baseline": "middle", "color": "#1a1a1a"}, "encoding": {"x": {"field": "t", "type": "quantitative"}, "y": {"field": "v", "type": "quantitative"}, "text": {"field": "txt"}}},
 {"data": {"name": "lab"}, "transform": [{"filter": "datum.p === 'a' && datum.k === 'series'"}], "mark": {"type": "text", "align": "center", "baseline": "middle"}, "encoding": {"x": {"field": "t", "type": "quantitative"}, "y": {"field": "v", "type": "quantitative"}, "text": {"field": "txt"}, "color": {"field": "s", "type": "nominal", "scale": {"domain": ["53Nb", "9Nb"], "range": ["#e2302f", "#1a66b5"]}, "legend": null}}}
]},
{"width": 462, "height": 468, "resolve": {"scale": {"color": "independent"}}, "layer": [
 {"data": {"name": "msd"}, "transform": [{"filter": "datum.p === 'b'"}], "mark": {"type": "line", "strokeWidth": 8, "strokeJoin": "round", "point": {"filled": true, "size": 75}},
  "encoding": {"x": {"field": "t", "type": "quantitative", "scale": {"domain": [-0.04, 1.008], "nice": false, "zero": false}, "axis": {"values": [0, 0.2, 0.4, 0.6, 0.8, 1], "format": ".1f", "title": null}},
   "y": {"field": "v", "type": "quantitative", "scale": {"domain": [0, 0.6], "nice": false}, "axis": {"values": [0, 0.1, 0.2, 0.3, 0.4, 0.5, 0.6], "format": ".1f", "title": null}},
   "color": {"field": "s", "type": "nominal", "scale": {"domain": ["53Nb", "9Nb"], "range": ["#ef3a3a", "#1e62d8"]}, "legend": null}}},
 {"data": {"name": "lab"}, "transform": [{"filter": "datum.p === 'b' && datum.k === 'name'"}], "mark": {"type": "text", "align": "left", "baseline": "middle", "color": "#1a1a1a"}, "encoding": {"x": {"field": "t", "type": "quantitative"}, "y": {"field": "v", "type": "quantitative"}, "text": {"field": "txt"}}},
 {"data": {"name": "lab"}, "transform": [{"filter": "datum.p === 'b' && datum.k === 'letter'"}], "mark": {"type": "text", "align": "center", "baseline": "middle", "color": "#1a1a1a"}, "encoding": {"x": {"field": "t", "type": "quantitative"}, "y": {"field": "v", "type": "quantitative"}, "text": {"field": "txt"}}},
 {"data": {"name": "lab"}, "transform": [{"filter": "datum.p === 'b' && datum.k === 'series'"}], "mark": {"type": "text", "align": "center", "baseline": "middle"}, "encoding": {"x": {"field": "t", "type": "quantitative"}, "y": {"field": "v", "type": "quantitative"}, "text": {"field": "txt"}, "color": {"field": "s", "type": "nominal", "scale": {"domain": ["53Nb", "9Nb"], "range": ["#e2302f", "#1a66b5"]}, "legend": null}}}
]},
{"width": 462, "height": 468, "resolve": {"scale": {"color": "independent"}}, "layer": [
 {"data": {"name": "msd"}, "transform": [{"filter": "datum.p === 'c'"}], "mark": {"type": "line", "strokeWidth": 8, "strokeJoin": "round", "point": {"filled": true, "size": 75}},
  "encoding": {"x": {"field": "t", "type": "quantitative", "scale": {"domain": [-0.04, 1.008], "nice": false, "zero": false}, "axis": {"values": [0, 0.2, 0.4, 0.6, 0.8, 1], "format": ".1f", "title": null}},
   "y": {"field": "v", "type": "quantitative", "scale": {"domain": [0, 0.6], "nice": false}, "axis": {"values": [0, 0.1, 0.2, 0.3, 0.4, 0.5, 0.6], "format": ".1f", "title": null}},
   "color": {"field": "s", "type": "nominal", "scale": {"domain": ["53Nb", "9Nb"], "range": ["#ef3a3a", "#1e62d8"]}, "legend": null}}},
 {"data": {"name": "lab"}, "transform": [{"filter": "datum.p === 'c' && datum.k === 'name'"}], "mark": {"type": "text", "align": "left", "baseline": "middle", "color": "#1a1a1a"}, "encoding": {"x": {"field": "t", "type": "quantitative"}, "y": {"field": "v", "type": "quantitative"}, "text": {"field": "txt"}}},
 {"data": {"name": "lab"}, "transform": [{"filter": "datum.p === 'c' && datum.k === 'letter'"}], "mark": {"type": "text", "align": "center", "baseline": "middle", "color": "#1a1a1a"}, "encoding": {"x": {"field": "t", "type": "quantitative"}, "y": {"field": "v", "type": "quantitative"}, "text": {"field": "txt"}}},
 {"data": {"name": "lab"}, "transform": [{"filter": "datum.p === 'c' && datum.k === 'series'"}], "mark": {"type": "text", "align": "center", "baseline": "middle"}, "encoding": {"x": {"field": "t", "type": "quantitative"}, "y": {"field": "v", "type": "quantitative"}, "text": {"field": "txt"}, "color": {"field": "s", "type": "nominal", "scale": {"domain": ["53Nb", "9Nb"], "range": ["#e2302f", "#1a66b5"]}, "legend": null}}}
]},
{"width": 462, "height": 469, "resolve": {"scale": {"color": "independent"}}, "layer": [
 {"data": {"name": "curve"}, "transform": [{"filter": "datum.p === 'd'"}], "mark": {"type": "line", "strokeWidth": 12, "strokeCap": "round", "strokeJoin": "round", "interpolate": "monotone"},
  "encoding": {"x": {"field": "t", "type": "quantitative", "scale": {"domain": [-0.04, 1.008], "nice": false, "zero": false}, "axis": {"values": [0, 0.2, 0.4, 0.6, 0.8, 1], "format": ".1f", "title": "Time, t/ns", "titlePadding": 0}},
   "y": {"field": "v", "type": "quantitative", "scale": {"domain": [0, 11], "nice": false}, "axis": {"values": [0, 2, 4, 6, 8, 10], "format": "d", "title": ["Mean Square Displacement/", "×10⁻² nm²"], "titleLineHeight": 57, "titlePadding": 17}},
   "color": {"field": "s", "type": "nominal", "scale": {"domain": ["53Nb", "9Nb"], "range": ["#ef3a3a", "#1e62d8"]}, "legend": null}}},
 {"data": {"name": "lab"}, "transform": [{"filter": "datum.p === 'd' && datum.k === 'name'"}], "mark": {"type": "text", "align": "left", "baseline": "middle", "color": "#1a1a1a"}, "encoding": {"x": {"field": "t", "type": "quantitative"}, "y": {"field": "v", "type": "quantitative"}, "text": {"field": "txt"}}},
 {"data": {"name": "lab"}, "transform": [{"filter": "datum.p === 'd' && datum.k === 'letter'"}], "mark": {"type": "text", "align": "center", "baseline": "middle", "color": "#1a1a1a"}, "encoding": {"x": {"field": "t", "type": "quantitative"}, "y": {"field": "v", "type": "quantitative"}, "text": {"field": "txt"}}},
 {"data": {"name": "lab"}, "transform": [{"filter": "datum.p === 'd' && datum.k === 'series'"}], "mark": {"type": "text", "align": "center", "baseline": "middle"}, "encoding": {"x": {"field": "t", "type": "quantitative"}, "y": {"field": "v", "type": "quantitative"}, "text": {"field": "txt"}, "color": {"field": "s", "type": "nominal", "scale": {"domain": ["53Nb", "9Nb"], "range": ["#e2302f", "#1a66b5"]}, "legend": null}}}
]},
{"width": 462, "height": 469, "resolve": {"scale": {"color": "independent"}}, "layer": [
 {"data": {"name": "curve"}, "transform": [{"filter": "datum.p === 'e'"}], "mark": {"type": "line", "strokeWidth": 12, "strokeCap": "round", "strokeJoin": "round", "interpolate": "monotone"},
  "encoding": {"x": {"field": "t", "type": "quantitative", "scale": {"domain": [-0.04, 1.008], "nice": false, "zero": false}, "axis": {"values": [0, 0.2, 0.4, 0.6, 0.8, 1], "format": ".1f", "title": "Time, t/ns", "titlePadding": 0}},
   "y": {"field": "v", "type": "quantitative", "scale": {"domain": [0, 11], "nice": false}, "axis": {"values": [0, 2, 4, 6, 8, 10], "format": "d", "title": null}},
   "color": {"field": "s", "type": "nominal", "scale": {"domain": ["53Nb", "9Nb"], "range": ["#ef3a3a", "#1e62d8"]}, "legend": null}}},
 {"data": {"name": "lab"}, "transform": [{"filter": "datum.p === 'e' && datum.k === 'name'"}], "mark": {"type": "text", "align": "left", "baseline": "middle", "color": "#1a1a1a"}, "encoding": {"x": {"field": "t", "type": "quantitative"}, "y": {"field": "v", "type": "quantitative"}, "text": {"field": "txt"}}},
 {"data": {"name": "lab"}, "transform": [{"filter": "datum.p === 'e' && datum.k === 'letter'"}], "mark": {"type": "text", "align": "center", "baseline": "middle", "color": "#1a1a1a"}, "encoding": {"x": {"field": "t", "type": "quantitative"}, "y": {"field": "v", "type": "quantitative"}, "text": {"field": "txt"}}},
 {"data": {"name": "lab"}, "transform": [{"filter": "datum.p === 'e' && datum.k === 'series'"}], "mark": {"type": "text", "align": "center", "baseline": "middle"}, "encoding": {"x": {"field": "t", "type": "quantitative"}, "y": {"field": "v", "type": "quantitative"}, "text": {"field": "txt"}, "color": {"field": "s", "type": "nominal", "scale": {"domain": ["53Nb", "9Nb"], "range": ["#e2302f", "#1a66b5"]}, "legend": null}}}
]},
{"width": 462, "height": 469, "resolve": {"scale": {"color": "independent"}}, "layer": [
 {"data": {"name": "curve"}, "transform": [{"filter": "datum.p === 'f'"}], "mark": {"type": "line", "strokeWidth": 12, "strokeCap": "round", "strokeJoin": "round", "interpolate": "monotone"},
  "encoding": {"x": {"field": "t", "type": "quantitative", "scale": {"domain": [-0.04, 1.008], "nice": false, "zero": false}, "axis": {"values": [0, 0.2, 0.4, 0.6, 0.8, 1], "format": ".1f", "title": "Time, t/ns", "titlePadding": 0}},
   "y": {"field": "v", "type": "quantitative", "scale": {"domain": [0, 11], "nice": false}, "axis": {"values": [0, 2, 4, 6, 8, 10], "format": "d", "title": null}},
   "color": {"field": "s", "type": "nominal", "scale": {"domain": ["53Nb", "9Nb"], "range": ["#ef3a3a", "#1e62d8"]}, "legend": null}}},
 {"data": {"name": "lab"}, "transform": [{"filter": "datum.p === 'f' && datum.k === 'name'"}], "mark": {"type": "text", "align": "left", "baseline": "middle", "color": "#1a1a1a"}, "encoding": {"x": {"field": "t", "type": "quantitative"}, "y": {"field": "v", "type": "quantitative"}, "text": {"field": "txt"}}},
 {"data": {"name": "lab"}, "transform": [{"filter": "datum.p === 'f' && datum.k === 'letter'"}], "mark": {"type": "text", "align": "center", "baseline": "middle", "color": "#1a1a1a"}, "encoding": {"x": {"field": "t", "type": "quantitative"}, "y": {"field": "v", "type": "quantitative"}, "text": {"field": "txt"}}},
 {"data": {"name": "lab"}, "transform": [{"filter": "datum.p === 'f' && datum.k === 'series'"}], "mark": {"type": "text", "align": "center", "baseline": "middle"}, "encoding": {"x": {"field": "t", "type": "quantitative"}, "y": {"field": "v", "type": "quantitative"}, "text": {"field": "txt"}, "color": {"field": "s", "type": "nominal", "scale": {"domain": ["53Nb", "9Nb"], "range": ["#e2302f", "#1a66b5"]}, "legend": null}}}
]}
]
}
